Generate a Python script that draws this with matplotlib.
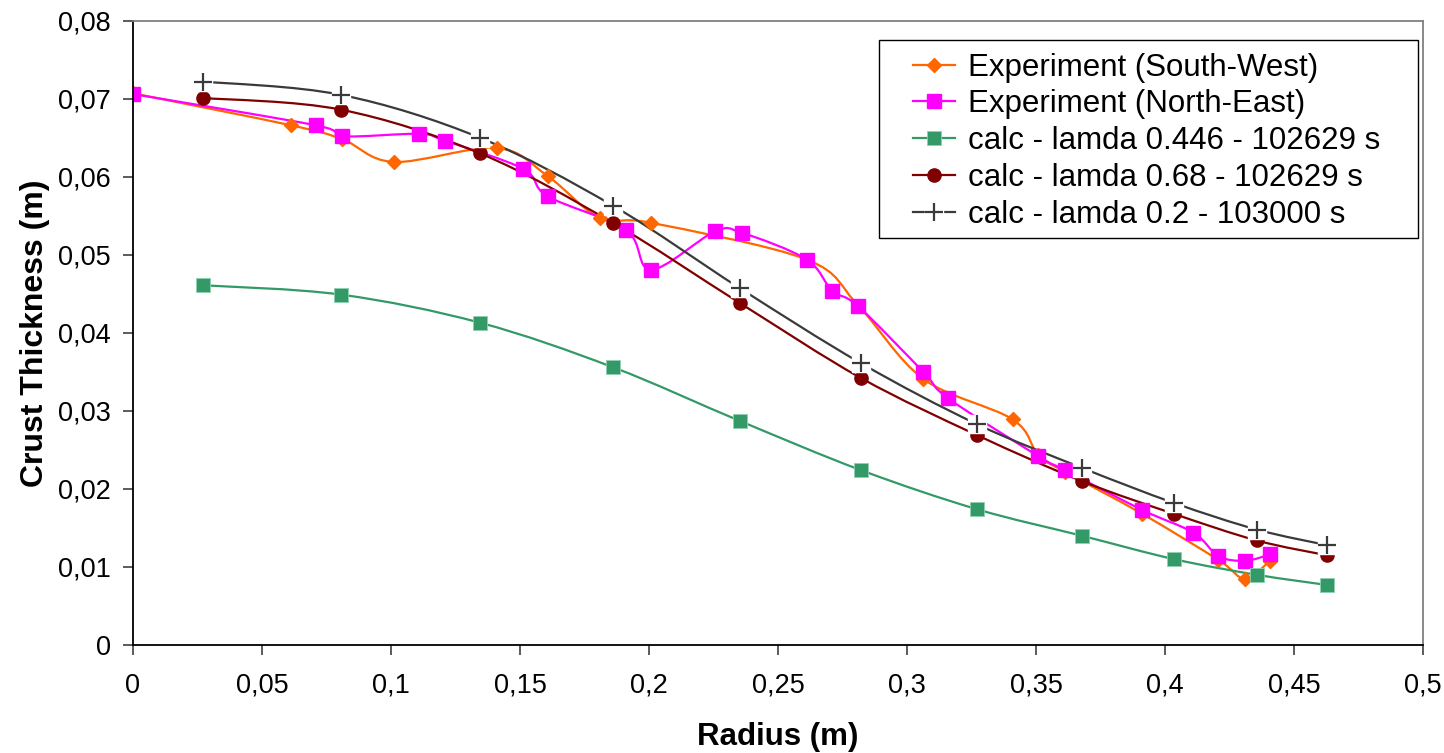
import numpy as np
import matplotlib
matplotlib.use("Agg")
import matplotlib.pyplot as plt
from matplotlib.path import Path
from matplotlib.patches import PathPatch, Rectangle
from matplotlib.lines import Line2D
from matplotlib.ticker import FuncFormatter

plt.rcParams['font.family'] = ['Liberation Sans', 'DejaVu Sans']

# Experiment (South-West)
sw_r = [0.0, 0.0612, 0.0812, 0.101, 0.141, 0.1607, 0.181, 0.2008, 0.2611,
        0.2811, 0.3063, 0.341, 0.3509, 0.3612, 0.3912, 0.4207, 0.431, 0.4407]
sw_t = [0.0707, 0.0666, 0.0648, 0.0619, 0.0637, 0.0601, 0.0547, 0.0541, 0.0494,
        0.0435, 0.0341, 0.0289, 0.0243, 0.0222, 0.0168, 0.0109, 0.0085, 0.0108]

# Experiment (North-East)
ne_r = [0.0, 0.0708, 0.0812, 0.1109, 0.121, 0.1513, 0.1607, 0.1911, 0.2008,
        0.2256, 0.2362, 0.2611, 0.271, 0.2811, 0.3063, 0.316, 0.3509, 0.3612,
        0.3912, 0.411, 0.4207, 0.431, 0.4407]
ne_t = [0.0706, 0.0666, 0.0652, 0.0655, 0.0646, 0.0610, 0.0575, 0.0532, 0.0481,
        0.0530, 0.0528, 0.0494, 0.0454, 0.0434, 0.0350, 0.0316, 0.0242, 0.0224,
        0.0173, 0.0144, 0.0114, 0.0108, 0.0116]

# calculated profiles share the same radii
calc_r = [0.0271, 0.0806, 0.1345, 0.186, 0.2353, 0.2822, 0.3271, 0.3678,
          0.4035, 0.4355, 0.4627]
calc_446 = [0.0461, 0.0449, 0.0413, 0.0356, 0.0287, 0.0224, 0.0174, 0.0140,
            0.0110, 0.0090, 0.0077]
calc_068 = [0.0701, 0.0686, 0.0630, 0.0541, 0.0438, 0.0342, 0.0269, 0.0210,
            0.0168, 0.0134, 0.0115]
calc_02 = [0.0722, 0.0705, 0.0650, 0.0563, 0.0457, 0.0361, 0.0283, 0.0227,
           0.0182, 0.0148, 0.0128]

labels = ['Experiment (South-West)', 'Experiment (North-East)',
          'calc - lamda 0.446 - 102629 s', 'calc - lamda 0.68 - 102629 s',
          'calc - lamda 0.2 - 103000 s']

c_sw = '#FF6600'
c_ne = '#FF00FF'
c_gr = '#339966'
c_dr = '#800000'
c_cr = '#3A3A3A'


def smooth_path(x, y):
    # Excel style smoothed line: cubic bezier through every point
    pts = np.column_stack([x, y])
    n = len(pts)
    verts = [pts[0]]
    codes = [Path.MOVETO]
    for i in range(n - 1):
        p0 = pts[i - 1] if i > 0 else pts[i]
        p1 = pts[i]
        p2 = pts[i + 1]
        p3 = pts[i + 2] if i + 2 < n else pts[i + 1]
        verts += [p1 + (p2 - p0) / 6, p2 - (p3 - p1) / 6, p2]
        codes += [Path.CURVE4] * 3
    return Path(verts, codes)


def draw_series(ax, x, y, color, lw=1.6):
    ax.add_patch(PathPatch(smooth_path(x, y), fill=False, edgecolor=color,
                           lw=lw, capstyle='round', joinstyle='round'))


fig = plt.figure(figsize=(14.44, 7.53), dpi=100)
ax = fig.add_axes([0.0921, 0.1434, 0.8934, 0.8291])

draw_series(ax, sw_r, sw_t, c_sw)
ax.plot(sw_r, sw_t, ls='none', marker='D', ms=7, color=c_sw, mec=c_sw)

draw_series(ax, ne_r, ne_t, c_ne)
ax.plot(ne_r, ne_t, ls='none', marker='s', ms=10.5, color=c_ne, mec=c_ne)

draw_series(ax, calc_r, calc_446, c_gr)
ax.plot(calc_r, calc_446, ls='none', marker='s', ms=10, color=c_gr, mec='#8fd0b0', mew=0.6)

draw_series(ax, calc_r, calc_068, c_dr)
ax.plot(calc_r, calc_068, ls='none', marker='o', ms=9.5, color=c_dr, mec=c_dr)

draw_series(ax, calc_r, calc_02, c_cr)
ax.plot(calc_r, calc_02, ls='none', marker='s', ms=13, color='white', mec='white')
ax.plot(calc_r, calc_02, ls='none', marker='+', ms=13, mew=1.6, color=c_cr)

ax.set_xlim(0, 0.5)
ax.set_ylim(0, 0.08)
ax.set_xticks(np.arange(0, 0.5001, 0.05))
ax.set_yticks(np.arange(0, 0.0801, 0.01))
comma = FuncFormatter(lambda v, p: f"{round(v, 3):g}".replace('.', ','))
ax.xaxis.set_major_formatter(comma)
ax.yaxis.set_major_formatter(comma)
ax.tick_params(axis='both', direction='out', length=7, width=1.2,
               color='#404040', labelsize=19.5)
ax.tick_params(axis='x', pad=13)
ax.tick_params(axis='y', pad=9)

for side in ['left', 'bottom']:
    ax.spines[side].set_color('black')
    ax.spines[side].set_linewidth(1.3)
for side in ['top', 'right']:
    ax.spines[side].set_color('#808080')
    ax.spines[side].set_linewidth(1.3)

ax.set_xlabel('Radius (m)', fontsize=22.5, fontweight='bold', labelpad=17)
ax.set_ylabel('Crust Thickness (m)', fontsize=23, fontweight='bold', labelpad=6)

handles = [
    Line2D([], [], color=c_sw, lw=1.6, marker='D', ms=7),
    Line2D([], [], color=c_ne, lw=1.6, marker='s', ms=10.5),
    Line2D([], [], color=c_gr, lw=1.6, marker='s', ms=10, mec='#8fd0b0', mew=0.6),
    Line2D([], [], color=c_dr, lw=1.6, marker='o', ms=9.5),
    (Line2D([], [], color=c_cr, lw=1.6),
     Line2D([], [], ls='none', marker='s', ms=13, color='white', mec='white'),
     Line2D([], [], ls='none', marker='+', ms=13, mew=1.6, color=c_cr)),
]

# legend frame drawn separately so the padding matches the original
ax.add_patch(Rectangle((0.578, 0.652), 0.418, 0.317, transform=ax.transAxes,
                       facecolor='white', edgecolor='black', lw=1.0, zorder=4))
leg = ax.legend(handles, labels, loc='upper left', bbox_to_anchor=(0.6047, 0.949),
                fontsize=22.5, frameon=False,
                handlelength=1.35, handletextpad=0.42, labelspacing=0.22,
                borderpad=0, borderaxespad=0)
leg.set_zorder(5)

fig.savefig('out.png', dpi=100)
